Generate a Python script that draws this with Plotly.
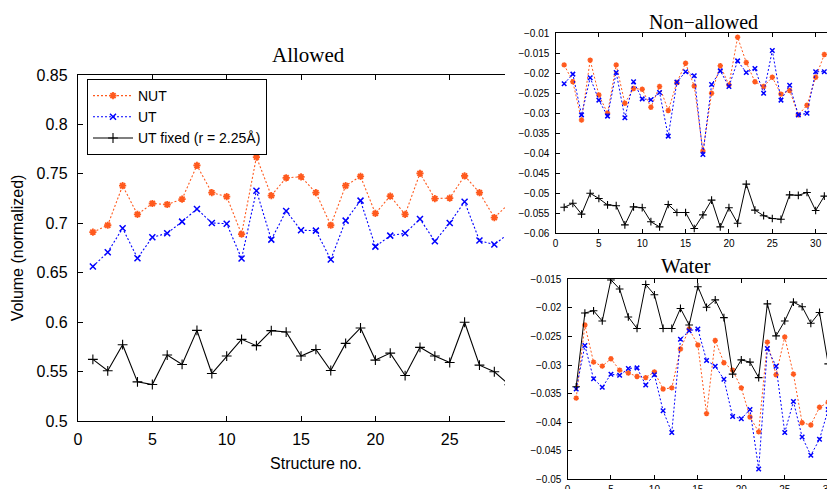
import plotly.graph_objects as go

# ---------------- data ----------------
allowed_structures = list(range(1, 31))
structures = list(range(1, 32))

allowed_nut = [0.691, 0.698, 0.738, 0.709, 0.720, 0.719, 0.7245, 0.7585, 0.731, 0.727,
               0.689, 0.767, 0.728, 0.746, 0.747, 0.731, 0.698, 0.738, 0.7475, 0.710,
               0.7275, 0.709, 0.7505, 0.725, 0.7255, 0.748, 0.731, 0.7057, 0.720, 0.730]
allowed_ut = [0.6563, 0.6707, 0.695, 0.6647, 0.6859, 0.6899, 0.7017, 0.7145, 0.7003, 0.6996,
              0.6643, 0.733, 0.6835, 0.7124, 0.6929, 0.6926, 0.6633, 0.7027, 0.7229, 0.6764,
              0.6875, 0.6899, 0.7044, 0.6818, 0.7003, 0.7218, 0.6825, 0.6785, 0.690, 0.700]
allowed_fixed = [0.5623, 0.5508, 0.5772, 0.5396, 0.5369, 0.5667, 0.5572, 0.5917, 0.548, 0.5657,
                 0.5826, 0.5762, 0.5914, 0.590, 0.5657, 0.5724, 0.5511, 0.5785, 0.5941, 0.5616,
                 0.5687, 0.546, 0.5745, 0.5657, 0.5592, 0.5999, 0.5565, 0.5498, 0.5366, 0.590]

nonallowed_nut = [-0.0179, -0.0221, -0.0317, -0.0167, -0.0254, -0.0300, -0.0179, -0.0275, -0.0238, -0.0240,
                  -0.0285, -0.0233, -0.0293, -0.0223, -0.0175, -0.0232, -0.0394, -0.0250, -0.0181, -0.0229,
                  -0.0110, -0.0173, -0.0221, -0.0233, -0.0210, -0.0252, -0.0243, -0.0304, -0.0280, -0.0210,
                  -0.0153]
nonallowed_ut = [-0.0226, -0.0202, -0.0304, -0.0211, -0.0267, -0.0307, -0.0198, -0.0311, -0.0221, -0.0264,
                 -0.0266, -0.0248, -0.0357, -0.0222, -0.0196, -0.0206, -0.0403, -0.0228, -0.0194, -0.0233,
                 -0.0169, -0.0198, -0.0188, -0.0250, -0.0143, -0.0267, -0.0230, -0.0304, -0.0300, -0.0196,
                 -0.0196]
nonallowed_fixed = [-0.0535, -0.0525, -0.0552, -0.0500, -0.0513, -0.0529, -0.0531, -0.0579, -0.0534, -0.0536,
                    -0.0571, -0.0584, -0.0528, -0.0548, -0.0548, -0.0588, -0.0554, -0.0517, -0.0584, -0.0536,
                    -0.0575, -0.0477, -0.0542, -0.0556, -0.0563, -0.0565, -0.0504, -0.0505, -0.0498, -0.0543,
                    -0.0507]

water_nut = [-0.0358, -0.0230, -0.0295, -0.0302, -0.0289, -0.0309, -0.0314, -0.0320, -0.0322, -0.0312,
             -0.0342, -0.0340, -0.0272, -0.0237, -0.0265, -0.0385, -0.0257, -0.0296, -0.0309, -0.0340,
             -0.0391, -0.0417, -0.0260, -0.0317, -0.0251, -0.0316, -0.0401, -0.0405, -0.0374, -0.0365,
             -0.0505]
water_ut = [-0.0342, -0.0266, -0.0324, -0.0339, -0.0316, -0.0318, -0.0306, -0.0305, -0.0335, -0.0317,
            -0.0380, -0.0418, -0.0255, -0.0240, -0.0237, -0.0292, -0.0302, -0.0325, -0.0390, -0.0394,
            -0.0378, -0.0482, -0.0271, -0.0302, -0.0418, -0.0364, -0.0426, -0.0458, -0.0430, -0.0378,
            -0.0409]
water_fixed = [-0.0338, -0.0209, -0.0205, -0.0223, -0.0151, -0.0167, -0.0216, -0.0236, -0.0159, -0.0177,
               -0.0236, -0.0236, -0.0201, -0.0230, -0.0163, -0.0199, -0.0186, -0.0217, -0.0316, -0.0291,
               -0.0295, -0.0322, -0.0193, -0.0249, -0.0223, -0.0190, -0.0198, -0.0227, -0.0208, -0.0298,
               -0.0349]

series_names = ["NUT", "UT", "UT fixed (r = 2.25Å)"]
panel_titles = ["Allowed", "Non\u2212allowed", "Water"]

# ---------------- layout helpers ----------------
# the page body has an 8px margin, so the figure is placed at (8, 8) in the window
OFF = 8
W, H = 835 - OFF, 489 - OFF
def fx(p):
    return (p - OFF) / W
def fy(p):
    return 1 - (p - OFF) / H

ORANGE = "#ff5a1e"
BLUE = "#0000ff"
BLACK = "#000000"
SANS = "Liberation Sans, Arial, sans-serif"
SERIF = "Liberation Serif, Times New Roman, serif"

fig = go.Figure()

def add_panel(xs, nut, ut, fixed, xa, ya, big, legend):
    ms = 6 if big else 4.5
    lw = 1.1 if big else 1.0
    fig.add_trace(go.Scatter(
        x=xs, y=nut, name=series_names[0], mode="lines+markers",
        line=dict(color=ORANGE, dash="2px,2px", width=lw),
        marker=dict(symbol="asterisk-open", size=ms, color=ORANGE,
                    line=dict(color=ORANGE, width=1.8 if big else 1.5)),
        xaxis=xa, yaxis=ya, showlegend=legend))
    fig.add_trace(go.Scatter(
        x=xs, y=ut, name=series_names[1], mode="lines+markers",
        line=dict(color=BLUE, dash="2px,2px", width=lw),
        marker=dict(symbol="x-thin-open", size=ms, color=BLUE, line=dict(color=BLUE, width=1.5)),
        xaxis=xa, yaxis=ya, showlegend=legend))
    fig.add_trace(go.Scatter(
        x=xs, y=fixed, name=series_names[2], mode="lines+markers",
        line=dict(color=BLACK, width=lw),
        marker=dict(symbol="cross-thin-open", size=ms + 1, color=BLACK, line=dict(color=BLACK, width=1.1)),
        xaxis=xa, yaxis=ya, showlegend=legend))

# panel 1 (Allowed)
add_panel(allowed_structures, allowed_nut, allowed_ut, allowed_fixed, "x", "y", True, True)
# cover subplot (hides the part of the Allowed panel lying under the right-hand panels)
fig.add_trace(go.Scatter(x=[], y=[], xaxis="x2", yaxis="y2", showlegend=False, hoverinfo="skip"))
# panel 2 (Non-allowed)
add_panel(structures, nonallowed_nut, nonallowed_ut, nonallowed_fixed, "x3", "y3", False, False)
# panel 3 (Water)
add_panel(structures, water_nut, water_ut, water_fixed, "x4", "y4", False, False)

axis_common = dict(showline=True, linecolor=BLACK, linewidth=1.3, ticks="inside",
                   tickcolor=BLACK, showgrid=False, zeroline=False, mirror="ticks",
                   automargin=False)

fig.update_layout(
    width=W, height=H, autosize=False,
    margin=dict(l=0, r=0, t=0, b=0),
    paper_bgcolor="white", plot_bgcolor="white",
    font=dict(family=SANS, color=BLACK),
    xaxis=dict(domain=[fx(78), fx(553.8)], range=[0, 32], tick0=0, dtick=5, anchor="y",
               ticklen=5, tickfont=dict(size=16), ticklabelstandoff=4,
               title=dict(text="Structure no.", font=dict(size=16), standoff=10), **axis_common),
    yaxis=dict(domain=[fy(421), fy(75)], range=[0.5, 0.85], tick0=0.5, dtick=0.05, anchor="x",
               ticklen=5, tickfont=dict(size=16), ticklabelstandoff=6,
               title=dict(text="Volume (normalized)", font=dict(size=16), standoff=8), **axis_common),
    xaxis2=dict(domain=[fx(505), 1], range=[505, 835], anchor="y2", visible=False,
                fixedrange=True, automargin=False),
    yaxis2=dict(domain=[0, 1], range=[OFF, 489], anchor="x2", visible=False,
                fixedrange=True, automargin=False),
    xaxis3=dict(domain=[fx(555.5), fx(833)], range=[0, 32], tick0=0, dtick=5, anchor="y3",
                ticklen=4, tickfont=dict(size=10), ticklabelstandoff=1, **axis_common),
    yaxis3=dict(domain=[fy(233.3), fy(33.3)], range=[-0.06, -0.01], tick0=-0.06, dtick=0.005, anchor="x3",
                ticklen=4, tickfont=dict(size=10), ticklabelstandoff=3, **axis_common),
    xaxis4=dict(domain=[fx(567.5), 1], range=[0, (835 - 567.5) / 8.69], tick0=0, dtick=5, anchor="y4",
                ticklen=4, tickfont=dict(size=10), ticklabelstandoff=1, **axis_common),
    yaxis4=dict(domain=[fy(479.3), fy(279.3)], range=[-0.05, -0.015], tick0=-0.05, dtick=0.005, anchor="x4",
                ticklen=4, tickfont=dict(size=10), ticklabelstandoff=3,
                showline=True, linecolor=BLACK, linewidth=1.3, ticks="inside", tickcolor=BLACK,
                showgrid=False, zeroline=False, mirror=False, automargin=False),
    legend=dict(x=fx(87), y=fy(79), xanchor="left", yanchor="top",
                bordercolor=BLACK, borderwidth=1, bgcolor="white",
                font=dict(size=14, family=SANS), tracegroupgap=0, itemwidth=40,
                entrywidth=225, entrywidthmode="pixels"),
    shapes=[
        dict(type="rect", xref="x2", yref="y2", x0=505, x1=835, y0=489 - 250, y1=489,
             fillcolor="white", line=dict(width=0), layer="below"),
        dict(type="rect", xref="x2", yref="y2", x0=520, x1=835, y0=OFF, y1=489 - 250,
             fillcolor="white", line=dict(width=0), layer="below"),
    ],
    annotations=[
        dict(text=panel_titles[0], x=fx(308), y=fy(55), xref="paper", yref="paper",
             showarrow=False, xanchor="center", yanchor="middle", font=dict(family=SERIF, size=21)),
        dict(text=panel_titles[1], x=fx(703.5), y=fy(22), xref="paper", yref="paper",
             showarrow=False, xanchor="center", yanchor="middle", font=dict(family=SERIF, size=20)),
        dict(text=panel_titles[2], x=fx(686), y=fy(266), xref="paper", yref="paper",
             showarrow=False, xanchor="center", yanchor="middle", font=dict(family=SERIF, size=21)),
    ],
)

fig.write_html("out.html")
